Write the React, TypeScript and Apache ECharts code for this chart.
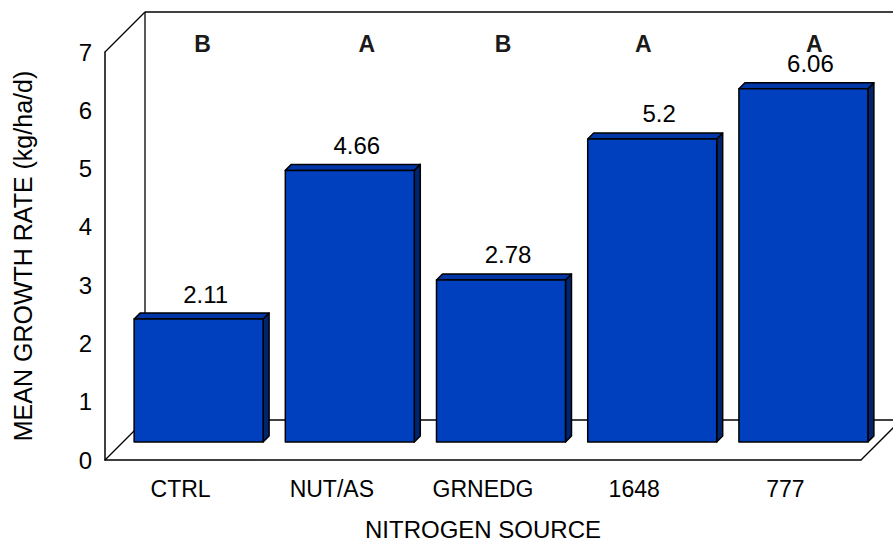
import React, { useEffect, useRef } from "react";
import * as echarts from "echarts";

const categories = ["CTRL", "NUT/AS", "GRNEDG", "1648", "777"];
const growthRates = [2.11, 4.66, 2.78, 5.2, 6.06];
const groupLetters = ["B", "A", "B", "A", "A"];
const yTicks = [0, 1, 2, 3, 4, 5, 6, 7];

const FONT = "'Liberation Sans', Arial, Helvetica, sans-serif";
const DEPTH = 18; // bar placement depth
const WALL = 40; // wall depth
const SIDE = 6; // bar side thickness
const letterNudge = [22, 35, 20, 9, 29];

export default function App() {
  const ref = useRef<HTMLDivElement>(null);
  useEffect(() => {
    if (!ref.current) return;
    const chart = echarts.init(ref.current, null, { renderer: "svg" });
    const barData = growthRates.map((v, i) => [i, v]);
    const option: any = {
      animation: false,
      backgroundColor: "#ffffff",
      grid: { left: 105, top: 52, right: 32, bottom: 85 },
      xAxis: {
        type: "category",
        data: categories,
        axisLine: { show: true, lineStyle: { color: "#000", width: 1.5 } },
        axisTick: { show: false },
        axisLabel: { color: "#000", fontSize: 23, fontFamily: FONT, margin: 17 },
        name: "NITROGEN SOURCE",
        nameLocation: "middle",
        nameGap: 57,
        nameTextStyle: { color: "#000", fontSize: 24, fontFamily: FONT },
      },
      yAxis: {
        type: "value",
        min: yTicks[0],
        max: yTicks[yTicks.length - 1],
        interval: 1,
        axisLine: { show: true, lineStyle: { color: "#000", width: 1.5 } },
        axisTick: { show: false },
        splitLine: { show: false },
        axisLabel: { color: "#000", fontSize: 24, fontFamily: FONT, margin: 13 },
        name: "MEAN GROWTH RATE (kg/ha/d)",
        nameLocation: "middle",
        nameGap: 70,
        nameTextStyle: { color: "#000", fontSize: 25, fontFamily: FONT },
      },
      series: [
        {
          type: "custom",
          silent: true,
          z: 1,
          data: [[0, 0]],
          renderItem: (params: any) => {
            const cs = params.coordSys;
            const L = cs.x, T = cs.y, R = cs.x + cs.width, B = cs.y + cs.height;
            const st = { stroke: "#000", lineWidth: 1.3 };
            const seg = (x1: number, y1: number, x2: number, y2: number) => ({
              type: "line",
              shape: { x1, y1, x2, y2 },
              style: st,
            });
            return {
              type: "group",
              children: [
                seg(L + WALL, T - WALL, R + WALL, T - WALL),
                seg(L + WALL, T - WALL, L + WALL, B - WALL),
                seg(L + WALL, B - WALL, R + WALL, B - WALL),
                seg(L, T, L + WALL, T - WALL),
                seg(L, B, L + WALL, B - WALL),
                seg(R, B, R + WALL, B - WALL),
              ],
            };
          },
        },
        {
          type: "custom",
          z: 3,
          data: barData,
          encode: { x: 0, y: 1 },
          renderItem: (params: any, api: any) => {
            const i = api.value(0);
            const v = api.value(1);
            const base = api.coord([i, 0]);
            const top = api.coord([i, v]);
            const bw = api.size([1, 0])[0] * 0.853;
            const x0 = base[0] - bw / 2 + DEPTH;
            const x1 = x0 + bw;
            const yb = base[1] - DEPTH;
            const yt = top[1] - DEPTH;
            const stroke = { stroke: "#000", lineWidth: 1.5, lineJoin: "round" };
            return {
              type: "group",
              children: [
                {
                  type: "polygon",
                  shape: {
                    points: [
                      [x1, yt],
                      [x1 + SIDE, yt - SIDE],
                      [x1 + SIDE, yb - SIDE],
                      [x1, yb],
                    ],
                  },
                  style: { fill: "#00246E", ...stroke },
                },
                {
                  type: "polygon",
                  shape: {
                    points: [
                      [x0, yt],
                      [x0 + SIDE, yt - SIDE],
                      [x1 + SIDE, yt - SIDE],
                      [x1, yt],
                    ],
                  },
                  style: { fill: "#0036A6", ...stroke },
                },
                {
                  type: "rect",
                  shape: { x: x0, y: yt, width: bw, height: yb - yt },
                  style: { fill: "#0040BE", ...stroke },
                },
                {
                  type: "text",
                  x: (x0 + x1) / 2 + 7,
                  y: yt - 25,
                  style: {
                    text: String(v),
                    fill: "#000",
                    fontSize: 24,
                    fontFamily: FONT,
                    align: "center",
                    verticalAlign: "middle",
                  },
                },
              ],
            };
          },
        },
        {
          type: "scatter",
          z: 4,
          symbolSize: 0,
          silent: true,
          data: groupLetters.map((l, i) => ({
            value: [i, yTicks[yTicks.length - 1]],
            label: { offset: [letterNudge[i], -8] },
          })),
          label: {
            show: true,
            position: "inside",
            formatter: (p: any) => groupLetters[p.dataIndex],
            color: "#1a1a1a",
            textBorderWidth: 0,
            textBorderColor: "transparent",
            opacity: 1,
            fontSize: 23,
            fontWeight: "bold",
            fontFamily: FONT,
          },
        },
      ],
    };
    chart.setOption(option);
    return () => chart.dispose();
  }, []);
  return (
    <div
      ref={ref}
      style={{ position: "fixed", left: 0, top: 0, width: 893, height: 546 }}
    />
  );
}
